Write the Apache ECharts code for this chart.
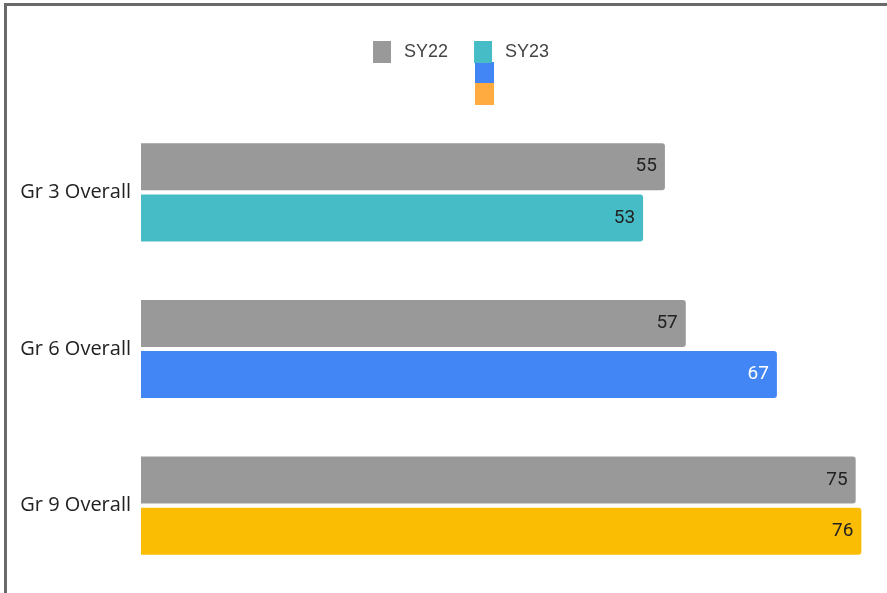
<!DOCTYPE html>
<html>
<head>
<meta charset="utf-8">
<script src="https://cdn.jsdelivr.net/npm/echarts@6/dist/echarts.min.js"></script>
<style>
  html, body { margin: 0; padding: 0; background: #fff; }
  #chart { width: 887px; height: 593px; }
</style>
</head>
<body>
<div id="chart"></div>
<script>
const categories = ['Gr 3 Overall', 'Gr 6 Overall', 'Gr 9 Overall'];
const sy22 = [55.2, 57.4, 75.3];
const sy23 = [52.9, 67.0, 75.9];
const sy23Colors = ['#46bdc6', '#4285f4', '#fbbc04'];
const sy23LabelColors = ['#222', '#fff', '#222'];

let myChart = echarts.init(document.getElementById('chart'));
let option = {
  animation: false,
  legend: {
    top: 41,
    left: 373,
    padding: 0,
    itemWidth: 18,
    itemHeight: 22,
    itemGap: 26,
    icon: 'rect',
    textStyle: { fontFamily: 'Liberation Sans', fontSize: 18, color: '#444', padding: [0, 0, 0, 8] },
    data: [
      { name: 'SY22', itemStyle: { color: '#999999' } },
      { name: 'SY23', itemStyle: { color: '#46bdc6' } }
    ]
  },
  graphic: [
    { type: 'rect', shape: { x: 475, y: 62, width: 19, height: 21 }, style: { fill: '#4285f4' } },
    { type: 'rect', shape: { x: 475, y: 83, width: 19, height: 22 }, style: { fill: '#ffab40' } },
    { type: 'polyline', shape: { points: [[5.5, 593], [5.5, 4.5], [887, 4.5]] },
      style: { stroke: '#6a6a6a', lineWidth: 3, fill: null } }
  ],
  grid: { left: 141, right: 0, top: 114, bottom: 9 },
  xAxis: {
    type: 'value',
    min: 0,
    max: 78.6,
    show: false
  },
  yAxis: {
    type: 'category',
    inverse: true,
    data: categories,
    axisLine: { show: false },
    axisTick: { show: false },
    axisLabel: { margin: 10, fontFamily: 'Open Sans', fontSize: 20, color: '#222', padding: [6, 0, 0, 0] }
  },
  series: [
    {
      name: 'SY22',
      type: 'bar',
      barWidth: 47,
      barGap: '9%',
      itemStyle: { color: '#999999', borderRadius: [0, 3, 3, 0] },
      label: {
        show: true, position: 'insideRight', distance: 8, fontFamily: 'Roboto', fontSize: 19, color: '#222',
        padding: [3, 0, 0, 0],
        formatter: p => Math.round(p.value)
      },
      data: sy22
    },
    {
      name: 'SY23',
      type: 'bar',
      barWidth: 47,
      barGap: '9%',
      itemStyle: { color: '#46bdc6', borderRadius: [0, 3, 3, 0] },
      label: {
        show: true, position: 'insideRight', distance: 8, fontFamily: 'Roboto', fontSize: 19,
        padding: [3, 0, 0, 0],
        formatter: p => Math.round(p.value)
      },
      data: sy23.map((v, i) => ({
        value: v,
        itemStyle: { color: sy23Colors[i] },
        label: { color: sy23LabelColors[i] }
      }))
    }
  ]
};
myChart.setOption(option);
</script>
</body>
</html>
